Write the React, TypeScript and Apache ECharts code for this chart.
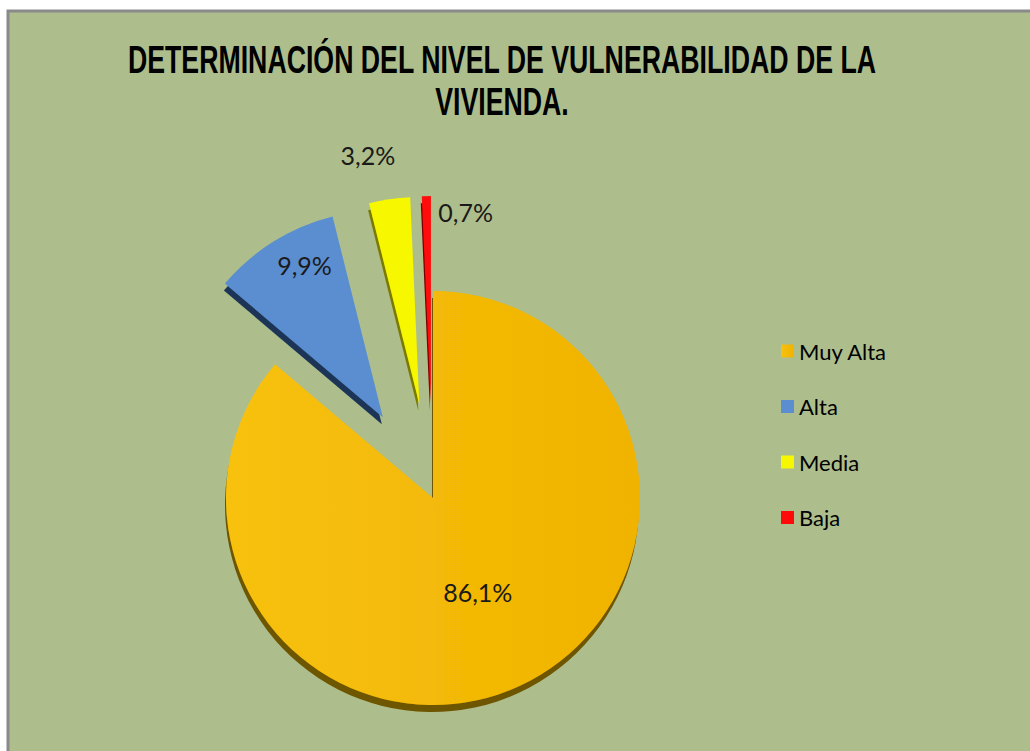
import React, { useEffect, useRef } from "react";
import * as echarts from "echarts";

const titleLines = ["DETERMINACIÓN DEL NIVEL DE VULNERABILIDAD DE LA", "VIVIENDA."];
const categories = ["Muy Alta", "Alta", "Media", "Baja"];
const values = [86.1, 9.9, 3.2, 0.7];
const exploded = [false, true, true, true];

const sliceColors = ["#f3b803", "#5a8ed0", "#f7f700", "#ff0a0a"];
const sideColors = ["#6e5400", "#1f3557", "#7c7a00", "#7a0000"];
const labelShift = [
  [0, -3],
  [-22, -62],
  [-36, -144],
  [37, -85],
];

export default function App() {
  const ref = useRef<HTMLDivElement>(null);

  useEffect(() => {
    if (!ref.current) return;
    const chart = echarts.init(ref.current, undefined, { renderer: "svg" });
    const fmt = (v: number) => v.toFixed(1).replace(".", ",") + "%";
    chart.setOption({
      animation: false,
      backgroundColor: "#ffffff",
      graphic: [
        {
          type: "rect",
          z: -10,
          silent: true,
          shape: { x: 8, y: 11, width: 1040, height: 760 },
          style: { fill: "#adbe8c", stroke: "#8a8a8a", lineWidth: 3 },
        },
        {
          type: "group",
          x: 502,
          y: 0,
          scaleX: 0.685,
          silent: true,
          children: titleLines.map((t, i) => ({
            type: "text",
            x: 0,
            y: 60 + i * 42,
            style: {
              text: t,
              textAlign: "center",
              textVerticalAlign: "middle",
              fontFamily: "'Liberation Sans', Arial, sans-serif",
              fontWeight: "bold",
              fontSize: 39,
              fill: "#000000",
            },
          })),
        },
      ],
      legend: {
        orient: "vertical",
        left: 776,
        top: 335,
        itemWidth: 13,
        itemHeight: 13,
        itemGap: 33.5,
        icon: "rect",
        data: categories,
        textStyle: {
          fontFamily: "Lato, 'Open Sans', sans-serif",
          fontSize: 22,
          lineHeight: 22,
          color: "#000000",
        },
      },
      series: [
        {
          type: "pie",
          center: [433, 498],
          radius: [0, 207],
          startAngle: 90,
          clockwise: true,
          selectedMode: "multiple",
          selectedOffset: 95,
          avoidLabelOverlap: false,
          label: {
            show: true,
            position: "inside",
            fontFamily: "Lato, 'Open Sans', sans-serif",
            fontSize: 25,
            color: "#1a1a1a",
            formatter: (p: any) => fmt(p.value),
          },
          labelLine: { show: false },
          labelLayout: (p: any) => ({
            dx: labelShift[p.dataIndex][0],
            dy: labelShift[p.dataIndex][1],
          }),
          emphasis: { disabled: true },
          data: categories.map((name, i) => ({
            name,
            value: values[i],
            selected: exploded[i],
            itemStyle: {
              color:
                i === 0
                  ? {
                      type: "linear",
                      x: 0,
                      y: 0,
                      x2: 1,
                      y2: 0,
                      colorStops: [
                        { offset: 0, color: "#f7c10e" },
                        { offset: 1, color: "#f0b300" },
                      ],
                    }
                  : sliceColors[i],
              shadowColor: sideColors[i],
              shadowBlur: 0,
              shadowOffsetX: -1,
              shadowOffsetY: 7,
            },
          })),
        },
      ],
    });
    return () => chart.dispose();
  }, []);

  return (
    <div
      ref={ref}
      style={{ position: "absolute", left: 0, top: 0, width: 1030, height: 751 }}
    />
  );
}
